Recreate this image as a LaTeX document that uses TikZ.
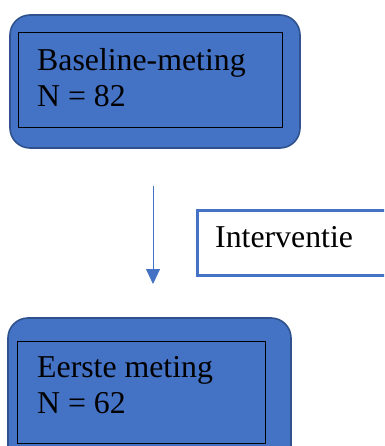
\documentclass[tikz,border=0pt]{standalone}
\usepackage{fontspec}
\setmainfont{Liberation Serif}
\usetikzlibrary{arrows.meta}
\definecolor{boxblue}{HTML}{4472C4}
\definecolor{boxedge}{HTML}{2F528F}
\begin{document}
\begin{tikzpicture}[x=1pt,y=-1pt,
  stage/.style={fill=boxblue,draw=boxedge,line width=1.6pt,rounded corners=20pt},
  inner/.style={draw=black,line width=1pt},
  label/.style={anchor=base west,inner sep=0pt,font=\fontsize{31.8}{35}\selectfont,text=black},
  flow/.style={draw=boxblue,line width=1pt,-{Triangle[length=15pt,width=14pt]}}]
\useasboundingbox (0,0) rectangle (384,446);
\clip (0,0) rectangle (384,446);
% first measurement
\draw[stage] (10,15) rectangle (300,148);
\draw[inner] (18,33) rectangle (282,128);
\node[label] (base1) at (37,71) {Baseline-meting};
\node[label] (base2) at (37,107) {N = 82};
% intervention step
\coordinate (from) at (153,186);
\coordinate (to) at (153,284);
\draw[flow] (from) -- (to);
\node[draw=boxblue,line width=3pt,fill=white,minimum width=200pt,minimum height=65pt,anchor=north west,inner sep=0pt] (iv) at (196,209) {};
\node[label] (ivtext) at (215,247) {Interventie};
% second measurement
\draw[stage] (8,318) rectangle (291,470);
\draw[inner] (17,341) rectangle (265,443);
\node[label] (eerste1) at (37,377) {Eerste meting};
\node[label] (eerste2) at (37,413) {N = 62};
\end{tikzpicture}
\end{document}
